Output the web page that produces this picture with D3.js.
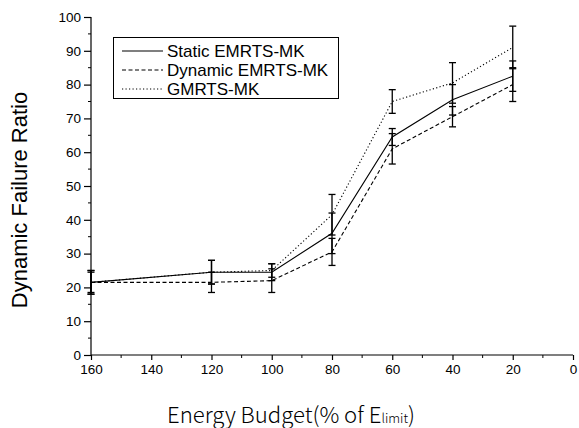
<!DOCTYPE html>
<html><head><meta charset="utf-8">
<script src="https://cdnjs.cloudflare.com/ajax/libs/d3/7.8.5/d3.min.js"></script>
<style>body{margin:0;background:#fff}svg{display:block}</style>
</head><body>
<svg id="c" width="579" height="428"></svg>
<script>
const xVals = [160, 120, 100, 80, 60, 40, 20];
const staticVals = [21.5, 24.5, 24.5, 36, 64.5, 75.5, 82.5];
const staticErr = [3.5, 3.5, 2.5, 6, 2.5, 4.5, 4.5];
const dynamicVals = [21.5, 21.5, 22, 30.5, 61, 70.5, 80];
const dynamicErr = [3, 3, 3.5, 4, 4.5, 3, 5];
const gmrtsVals = [21.5, 24.5, 25, 41.5, 75, 80.5, 91];
const gmrtsErr = [3.5, 3.5, 2, 6, 3.5, 6, 6.3];
const seriesNames = ["Static EMRTS-MK", "Dynamic EMRTS-MK", "GMRTS-MK"];
const xTicks = [160, 140, 120, 100, 80, 60, 40, 20, 0];
const yTicks = [0, 10, 20, 30, 40, 50, 60, 70, 80, 90, 100];

const svg = d3.select("#c");
const x = d3.scaleLinear().domain([160, 0]).range([91, 573]);
const y = d3.scaleLinear().domain([0, 100]).range([355, 17]);

const font = "'Liberation Sans', Arial, sans-serif";

// axes
const xAxis = d3.axisBottom(x).tickValues(xTicks).tickSize(5).tickPadding(4).tickFormat(d3.format("d"));
const gx = svg.append("g").attr("transform", "translate(0,355)").call(xAxis);
gx.select(".domain").attr("d", `M${x(160)},0H${x(0)}`);
gx.append("g").selectAll("line").data(d3.range(150, 0, -20)).join("line")
  .attr("x1", d => x(d)).attr("x2", d => x(d)).attr("y1", 0).attr("y2", 3).attr("stroke", "#000");

const yAxis = d3.axisLeft(y).tickValues(yTicks).tickSize(7).tickPadding(3);
const gy = svg.append("g").attr("transform", "translate(91,0)").call(yAxis);
gy.select(".domain").attr("d", `M0,${y(100)}V${y(0)}`);
gy.append("g").selectAll("line").data(d3.range(5, 100, 10)).join("line")
  .attr("y1", d => y(d)).attr("y2", d => y(d)).attr("x1", 0).attr("x2", -3).attr("stroke", "#000");

svg.selectAll(".tick text").attr("font-family", font).attr("font-size", 13.5).attr("fill", "#000");
svg.selectAll(".domain, .tick line").attr("stroke", "#000").attr("stroke-width", 1.2);

// lines
const series = [
  {vals: staticVals, err: staticErr, dash: null},
  {vals: dynamicVals, err: dynamicErr, dash: "4,2.5"},
  {vals: gmrtsVals, err: gmrtsErr, dash: "1.2,2.3"}
];
const line = d3.line().x((d, i) => x(xVals[i])).y(d => y(d));
series.forEach(s => {
  svg.append("path").datum(s.vals).attr("d", line)
    .attr("fill", "none").attr("stroke", "#000").attr("stroke-width", 1.1)
    .attr("stroke-dasharray", s.dash);
});

// error bars
series.forEach(s => {
  const g = svg.append("g").attr("stroke", "#000").attr("stroke-width", 1.3);
  s.vals.forEach((v, i) => {
    const cx = x(xVals[i]);
    const top = y(v + s.err[i]), bot = y(v - s.err[i]);
    g.append("line").attr("x1", cx).attr("x2", cx).attr("y1", top).attr("y2", bot);
    g.append("line").attr("x1", cx - 3.5).attr("x2", cx + 3.5).attr("y1", top).attr("y2", top);
    g.append("line").attr("x1", cx - 3.5).attr("x2", cx + 3.5).attr("y1", bot).attr("y2", bot);
  });
});

// legend
const lg = svg.append("g");
lg.append("rect").attr("x", 113.5).attr("y", 37.5).attr("width", 225).attr("height", 61)
  .attr("fill", "#fff").attr("stroke", "#000").attr("stroke-width", 1);
const rows = [51, 70, 89];
series.forEach((s, i) => {
  lg.append("line").attr("x1", 122).attr("x2", 163).attr("y1", rows[i]).attr("y2", rows[i])
    .attr("stroke", "#000").attr("stroke-width", 1.1).attr("stroke-dasharray", s.dash);
  lg.append("text").attr("x", 167).attr("y", rows[i] + 6).text(seriesNames[i])
    .attr("font-family", font).attr("font-size", 17).attr("fill", "#000");
});

// axis titles
svg.append("text").attr("transform", "translate(27,200) rotate(-90)")
  .attr("text-anchor", "middle").attr("font-family", font).attr("font-size", 22)
  .text("Dynamic Failure Ratio");

const xt = svg.append("text").attr("x", 167).attr("y", 423)
  .attr("font-family", "'Noto Sans CJK KR', sans-serif").attr("font-weight", 300).attr("font-size", 22).attr("fill", "#000")
  .attr("textLength", 248).attr("lengthAdjust", "spacingAndGlyphs");
xt.append("tspan").text("Energy Budget(% of E");
xt.append("tspan").attr("font-size", 13).text("limit");
xt.append("tspan").text(")");
</script>
</body></html>
